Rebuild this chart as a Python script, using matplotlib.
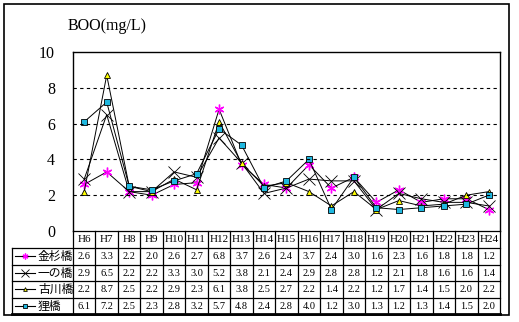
import matplotlib
matplotlib.use("Agg")
import matplotlib.pyplot as plt
from matplotlib.patches import Rectangle

plt.rcParams['font.family'] = ['Liberation Serif', 'Noto Sans CJK JP', 'DejaVu Sans']

years = ["H6", "H7", "H8", "H9", "H10", "H11", "H12", "H13", "H14", "H15",
         "H16", "H17", "H18", "H19", "H20", "H21", "H22", "H23", "H24"]
names = ["金杉橋", "一の橋", "古川橋", "狸橋"]
kanasugi = [2.6, 3.3, 2.2, 2.0, 2.6, 2.7, 6.8, 3.7, 2.6, 2.4, 3.7, 2.4, 3.0, 1.6, 2.3, 1.6, 1.8, 1.8, 1.2]
ichinohashi = [2.9, 6.5, 2.2, 2.2, 3.3, 3.0, 5.2, 3.8, 2.1, 2.4, 2.9, 2.8, 2.8, 1.2, 2.1, 1.8, 1.6, 1.6, 1.4]
furukawa = [2.2, 8.7, 2.5, 2.2, 2.9, 2.3, 6.1, 3.8, 2.5, 2.7, 2.2, 1.4, 2.2, 1.2, 1.7, 1.4, 1.5, 2.0, 2.2]
tanuki = [6.1, 7.2, 2.5, 2.3, 2.8, 3.2, 5.7, 4.8, 2.4, 2.8, 4.0, 1.2, 3.0, 1.3, 1.2, 1.3, 1.4, 1.5, 2.0]
series = [kanasugi, ichinohashi, furukawa, tanuki]
yticks = [0, 2, 4, 6, 8, 10]

styles = [
    dict(marker=(6, 2, 0), markersize=7, markerfacecolor='#FF00FF', markeredgecolor='#FF00FF', markeredgewidth=1.0),
    dict(marker='x', markersize=9, markerfacecolor='black', markeredgecolor='black', markeredgewidth=0.6),
    dict(marker='^', markersize=4.5, markerfacecolor='#FFFF00', markeredgecolor='black', markeredgewidth=0.6),
    dict(marker='s', markersize=4.5, markerfacecolor='#1FB8E0', markeredgecolor='black', markeredgewidth=0.6),
]

W, H = 519, 322
fig = plt.figure(figsize=(W / 100, H / 100), dpi=100)

def fx(px):
    return px / W

def fy(py):
    return 1 - py / H

# outer frame
fig.patches.append(Rectangle((fx(4), fy(315)), fx(509) - fx(4), fy(4) - fy(315),
                             transform=fig.transFigure, fill=False, edgecolor='black', linewidth=1.2))

left_px, right_px, top_px, bot_px = 73, 500, 52, 231
ax = fig.add_axes([fx(left_px), fy(bot_px), fx(right_px) - fx(left_px), fy(top_px) - fy(bot_px)])
n = len(years)
x = list(range(n))
for vals, st in zip(series, styles):
    ax.plot(x, vals, color='black', linewidth=0.7, clip_on=False, **st)
ax.set_xlim(-0.5, n - 0.5)
ax.set_ylim(0, 10)
ax.set_yticks(yticks)
ax.set_yticklabels([str(v) for v in yticks], fontsize=11.5)
ax.tick_params(axis='y', length=0, pad=13)
ax.set_xticks([])
for v in yticks[1:-1]:
    ax.axhline(v, color='black', linestyle=(0, (3, 3)), linewidth=0.8)
for s in ['left', 'top', 'right']:
    ax.spines[s].set_linewidth(1.0)
ax.spines['bottom'].set_visible(False)

fig.text(fx(68), fy(26), "BOO(mg/L)", fontsize=11.5, ha='left', va='center')

# table
tab_l, tab_r, tab_t, tab_b = 12, 500, 231, 314
colw = (right_px - left_px) / n
tax = fig.add_axes([fx(tab_l), fy(tab_b), fx(tab_r) - fx(tab_l), fy(tab_t) - fy(tab_b)])
xl = -0.5 - (left_px - tab_l) / colw
tax.set_xlim(xl, n - 0.5)
tax.set_ylim(tab_b - tab_t, 0)
tax.axis('off')
hdr = 17
rowh = (tab_b - tab_t - hdr) / 4
lw = 0.9
# horizontal lines
tax.plot([-0.5, n - 0.5], [0, 0], color='black', lw=lw, clip_on=False)
for i in range(4):
    yy = hdr + i * rowh
    tax.plot([xl, n - 0.5], [yy, yy], color='black', lw=lw, clip_on=False)
tax.plot([xl, n - 0.5], [tab_b - tab_t, tab_b - tab_t], color='black', lw=2.0, clip_on=False)
# vertical lines
for j in range(n + 1):
    xx = j - 0.5
    tax.plot([xx, xx], [0, tab_b - tab_t], color='black', lw=lw, clip_on=False)
tax.plot([xl, xl], [hdr, tab_b - tab_t], color='black', lw=lw, clip_on=False)

for j, yr in enumerate(years):
    tax.text(j, hdr / 2 + 0.5, yr, ha='center', va='center', fontsize=8)
for i, (nm, vals, st) in enumerate(zip(names, series, styles)):
    yc = hdr + (i + 0.5) * rowh
    for j, v in enumerate(vals):
        tax.text(j, yc + 0.5, f"{v:.1f}", ha='center', va='center', fontsize=7.5)
    x0 = xl + 3 / colw
    x1 = xl + 23 / colw
    tax.plot([x0, x1], [yc, yc], color='black', lw=0.8, clip_on=False)
    st2 = dict(st)
    st2['markersize'] = st['markersize'] * 0.6
    tax.plot([(x0 + x1) / 2], [yc], linestyle='none', clip_on=False, **st2)
    tax.text(xl + 26 / colw, yc + 0.5, nm, ha='left', va='center', fontsize=8.5,
             family=['Noto Sans CJK JP', 'DejaVu Sans'])

fig.savefig("out.png", dpi=100)
